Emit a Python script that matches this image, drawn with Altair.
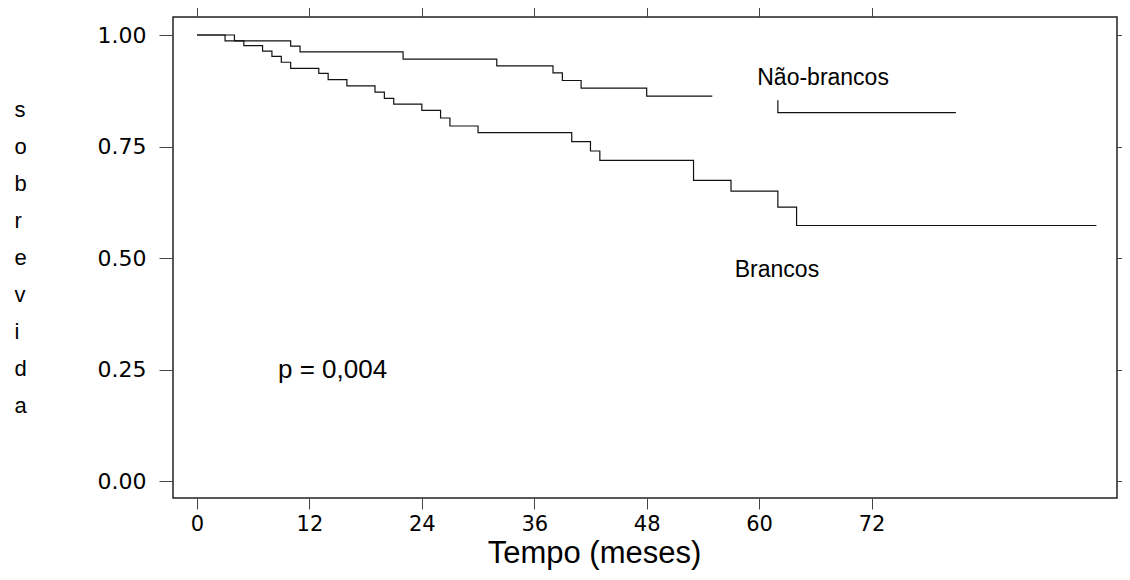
import altair as alt
import pandas as pd

# Kaplan-Meier step curves (time in months, survival proportion)
brancos_t = [0, 3, 5, 7, 8, 9, 10, 13, 14, 16, 19, 20, 21, 24, 26, 27, 30, 40, 42, 43, 53, 57, 62, 64, 96]
brancos_s = [1.0, 0.987, 0.976, 0.964, 0.952, 0.939, 0.925, 0.914, 0.900, 0.886, 0.872, 0.858, 0.845,
             0.831, 0.814, 0.796, 0.781, 0.761, 0.740, 0.719, 0.674, 0.650, 0.614, 0.573, 0.573]
nb1_t = [0, 4, 10, 11, 22, 32, 38, 39, 41, 48, 55]
nb1_s = [1.0, 0.987, 0.975, 0.962, 0.946, 0.931, 0.915, 0.898, 0.881, 0.863, 0.863]
nb2_t = [62, 62, 81]
nb2_s = [0.854, 0.826, 0.826]

x_ticks = [0, 12, 24, 36, 48, 60, 72]
y_ticks = [0.0, 0.25, 0.5, 0.75, 1.0]

ann_text = ["Não-brancos", "Brancos", "p = 0,004"]
ann_t = [59.8, 57.4, 8.65]
ann_s = [0.887, 0.457, 0.232]
ann_size = [23, 23, 26]

y_title = ["s", "o", "b", "r", "e", "v", "i", "d", "a"]

rows = []
for piece, (ts, ss) in {"brancos": (brancos_t, brancos_s),
                        "nb1": (nb1_t, nb1_s),
                        "nb2": (nb2_t, nb2_s)}.items():
    for i, (t, s) in enumerate(zip(ts, ss)):
        rows.append({"t": t, "s": s, "piece": piece, "i": i})
df = pd.DataFrame(rows)
ann = pd.DataFrame({"t": ann_t, "s": ann_s, "label": ann_text, "fs": ann_size})

xscale = alt.Scale(domain=[-2.56, 98.2], nice=False, zero=False)
yscale = alt.Scale(domain=[-0.038, 1.0404], nice=False, zero=False)

lines = alt.Chart(df).mark_line(interpolate="step-after", color="#111", strokeWidth=1.2).encode(
    x=alt.X("t:Q", scale=xscale, axis=alt.Axis(
        orient="bottom", values=x_ticks, format="d", grid=False, domain=False,
        tickSize=11, tickColor="#444", labelPadding=4,
        labelFont="DejaVu Sans", labelFontSize=21, labelColor="#000",
        title="Tempo (meses)", titleFont="Liberation Sans", titleFontSize=31,
        titleFontWeight="normal", titleColor="#000", titleX=421, titleY=64,
        titleAlign="center", titleBaseline="alphabetic")),
    y=alt.Y("s:Q", scale=yscale, axis=alt.Axis(
        orient="left", values=y_ticks, format=".2f", grid=False, domain=False,
        tickSize=14, tickColor="#444", labelPadding=13,
        labelFont="DejaVu Sans", labelFontSize=22, labelColor="#000",
        title=y_title, titleAngle=0, titleAlign="left", titleBaseline="alphabetic",
        titleX=-159, titleY=99, titleFont="Liberation Sans", titleFontSize=22,
        titleFontWeight="normal", titleColor="#000", titleLineHeight=37)),
    detail="piece:N",
    order="i:Q",
)

texts = alt.Chart(ann).mark_text(align="left", baseline="alphabetic", font="Liberation Sans",
                                 color="#000").encode(
    x=alt.X("t:Q", scale=xscale, axis=alt.Axis(
        orient="top", values=x_ticks, labels=False, grid=False, domain=False,
        tickSize=11, tickColor="#444", title=None)),
    y=alt.Y("s:Q", scale=yscale, axis=alt.Axis(
        orient="right", values=y_ticks, labels=False, grid=False, domain=False,
        tickSize=10, tickColor="#444", title=None)),
    text="label:N",
    size=alt.Size("fs:Q", scale=None, legend=None),
)

chart = alt.layer(lines, texts).resolve_axis(x="independent", y="independent").properties(
    width=944, height=481,
    autosize=alt.AutoSizeParams(type="none"),
    padding={"left": 165, "top": 9, "right": 5, "bottom": 74},
    background="white",
).configure_view(stroke="#222", strokeWidth=1.5)

chart.save("out.html", embed_options={"renderer": "svg", "actions": False})
